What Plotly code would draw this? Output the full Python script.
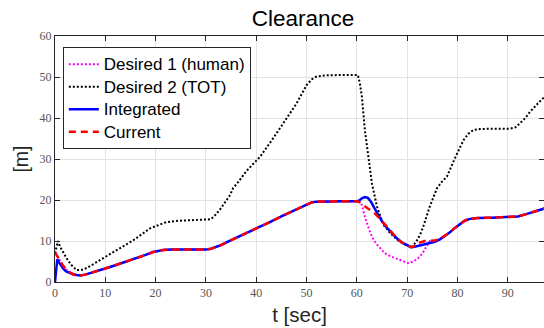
import plotly.graph_objects as go

# ---------------- data ----------------
t_int = [0, 0.2, 0.45, 0.8, 1.2, 1.6, 2.2, 3, 3.6, 4.3, 5, 6, 8, 10, 12, 14, 16, 18, 19.5, 20.5,
         21.5, 23, 26, 29, 30, 31, 32, 33, 35, 37.5, 40, 42.5, 45, 47.5, 50, 51, 52, 54, 57, 60,
         60.5, 61, 61.6, 62.2, 62.8, 63.5, 64.3, 65, 66, 67, 68, 69, 70, 70.8, 71.5, 72.5, 73.5,
         74.5, 75.5, 76.5, 77.5, 78.5, 79.5, 80.5, 81.5, 82.5, 84, 87, 90, 91, 92, 93.5, 95, 96.5, 97.5]
v_int = [0, 3.5, 5.5, 4.8, 4.0, 3.3, 2.6, 2.1, 1.9, 1.7, 1.6, 1.8, 2.5, 3.3, 4.1, 4.9, 5.7, 6.6, 7.3, 7.6,
         7.8, 7.9, 7.9, 7.9, 7.9, 8.1, 8.5, 9.0, 10.2, 11.6, 13.1, 14.5, 16.0, 17.5, 19.0, 19.4, 19.6, 19.7, 19.7, 19.7,
         19.9, 20.4, 20.7, 20.5, 19.6, 18.0, 16.2, 14.8, 13.2, 11.8, 10.6, 9.6, 8.9, 8.5, 8.6, 8.9, 9.2,
         9.4, 9.8, 10.4, 11.2, 12.1, 13.2, 14.2, 15.0, 15.4, 15.6, 15.7, 15.8, 15.8, 16.0, 16.5, 17.0, 17.6, 18.0]

t_cur = [0, 0.5, 1, 1.6, 2.2, 3, 3.6, 4.3, 5, 6, 8, 10, 12, 14, 16, 18, 19.5, 20.5,
         21.5, 23, 26, 29, 30, 31, 32, 33, 35, 37.5, 40, 42.5, 45, 47.5, 50, 51, 52, 54, 57, 60,
         60.5, 61, 61.8, 62.6, 63.5, 64.3, 65, 66, 67, 68, 69, 70, 70.8, 71.5, 72.5, 73.5,
         74.5, 75.5, 76.5, 77.5, 78.5, 79.5, 80.5, 81.5, 82.5, 84, 87, 90, 91, 92, 93.5, 95, 96.5, 97.5]
v_cur = [7.2, 6.3, 5.2, 4.0, 3.0, 2.3, 1.9, 1.7, 1.6, 1.8, 2.5, 3.3, 4.1, 4.9, 5.7, 6.6, 7.3, 7.6,
         7.8, 7.9, 7.9, 7.9, 7.9, 8.1, 8.5, 9.0, 10.2, 11.6, 13.1, 14.5, 16.0, 17.5, 19.0, 19.4, 19.6, 19.7, 19.7, 19.7,
         19.5, 19.0, 18.3, 17.7, 16.8, 15.8, 14.8, 13.2, 11.8, 10.6, 9.6, 8.9, 8.5, 8.8, 9.6, 10.0,
         10.0, 10.1, 10.5, 11.2, 12.1, 13.2, 14.2, 15.0, 15.4, 15.6, 15.7, 15.8, 15.8, 16.0, 16.5, 17.0, 17.6, 18.0]

t_hum = [0, 0.5, 1, 1.6, 2.2, 3, 3.6, 4.3, 5, 6, 8, 10, 12, 14, 16, 18, 19.5, 20.5,
         21.5, 23, 26, 29, 30, 31, 32, 33, 35, 37.5, 40, 42.5, 45, 47.5, 50, 51, 52, 54, 57, 60,
         60.5, 61, 61.6, 62.3, 63, 63.8, 64.6, 65.5, 66.6, 67.6, 68.6, 69.5, 70.2, 71.2, 72.2, 73,
         73.6, 74.1, 74.5, 75.5, 76.5, 77.5, 78.5, 79.5, 80.5, 81.5, 82.5, 84, 87, 90, 91, 92, 93.5, 95, 96.5, 97.5]
v_hum = [7.2, 6.3, 5.2, 4.0, 3.0, 2.3, 1.9, 1.7, 1.6, 1.8, 2.5, 3.3, 4.1, 4.9, 5.7, 6.6, 7.3, 7.6,
         7.8, 7.9, 7.9, 7.9, 7.9, 8.1, 8.5, 9.0, 10.2, 11.6, 13.1, 14.5, 16.0, 17.5, 19.0, 19.4, 19.6, 19.7, 19.7, 19.7,
         19.5, 18.8, 15.9, 13.3, 11.0, 9.4, 8.2, 7.1, 6.3, 5.8, 5.4, 4.9, 4.6, 5.0, 5.8, 6.9,
         8.2, 9.2, 10.0, 9.9, 10.4, 11.2, 12.1, 13.2, 14.2, 15.0, 15.4, 15.6, 15.7, 15.8, 15.8, 16.0, 16.5, 17.0, 17.6, 18.0]

t_tot = [0, 0.3, 0.6, 1, 1.6, 2.3, 3.2, 4.3, 5.6, 7, 9, 12.3, 15.6, 18.9, 20.5, 21.9, 24, 27, 30, 31,
         32, 33, 34, 34.8, 35.4, 36.5, 38, 40.8, 43.5, 46.1, 48, 50, 51, 52, 54, 57, 59.5, 60.2, 60.6, 61,
         61.6, 62.3, 63, 64, 65.3, 66.6, 68, 69.5, 70.9, 71.8, 72.6, 73.2, 74.5, 75.9, 76.8, 77.9, 78.8,
         79.5, 80.5, 81.2, 82.2, 83.2, 84.5, 86.5, 90.5, 91.5, 92.4, 93.5, 94.4, 95.5, 96.5, 97.5]
v_tot = [7, 8.5, 10, 8.6, 7.2, 5.8, 4.2, 2.9, 3.0, 3.9, 5.4, 7.8, 10.2, 13.1, 13.9, 14.5, 14.9, 15.0, 15.1, 15.3,
         16.5, 18.0, 19.8, 21.2, 22.9, 24.5, 27.0, 30.6, 35.3, 39.9, 43.5, 48.0, 49.4, 50.1, 50.4, 50.5, 50.6, 50.5, 48.5, 45.2,
         37.0, 30.2, 24.0, 18.4, 13.9, 12.0, 10.3, 9.2, 8.5, 9.8, 11.6, 13.5, 18.4, 22.8, 24.3, 25.7, 28.0,
         30.2, 32.8, 34.6, 36.2, 37.1, 37.3, 37.4, 37.4, 37.7, 38.7, 40.0, 41.5, 43.0, 44.2, 45.4]

series_names = ["Desired 1 (human)", "Desired 2 (TOT)", "Integrated", "Current"]
x_ticks = [0, 10, 20, 30, 40, 50, 60, 70, 80, 90]
y_ticks = [0, 10, 20, 30, 40, 50, 60]


def lbl(s):
    return '<span style="font-size:17px">' + s + '</span>'


# ---------------- figure ----------------
fig = go.Figure()
fig.add_trace(go.Scatter(x=t_hum, y=v_hum, mode="lines", name=lbl(series_names[0]),
                         line=dict(color="#ff00ff", width=2, dash="2px,2px")))
fig.add_trace(go.Scatter(x=t_tot, y=v_tot, mode="lines", name=lbl(series_names[1]),
                         line=dict(color="#000000", width=2, dash="2px,2px")))
fig.add_trace(go.Scatter(x=t_int, y=v_int, mode="lines", name=lbl(series_names[2]),
                         line=dict(color="#0000ff", width=2.5)))
fig.add_trace(go.Scatter(x=t_cur, y=v_cur, mode="lines", name=lbl(series_names[3]),
                         line=dict(color="#ff0000", width=2.5, dash="7px,5px")))

axis_common = dict(
    showgrid=True, gridcolor="#e3e3e3", gridwidth=1,
    zeroline=False, showline=True, linecolor="#262626", linewidth=1,
    mirror="ticks", ticks="inside", ticklen=5, tickcolor="#262626",
    tickfont=dict(family="Liberation Serif", size=12, color="#555555"),
)

fig.update_layout(
    width=544, height=328,
    margin=dict(l=55, r=0, t=36, b=46),
    paper_bgcolor="white", plot_bgcolor="white",
    title=dict(text="Clearance", x=0.557, xanchor="center", y=0.945, yanchor="middle",
               font=dict(family="Liberation Sans", size=22.5, color="#000000")),
    xaxis=dict(range=[0, 97.2], tickvals=x_ticks,
               title=dict(text="t [sec]", font=dict(family="Liberation Sans", size=20.5, color="#262626"),
                          standoff=8),
               **axis_common),
    yaxis=dict(range=[0, 60], tickvals=y_ticks,
               title=dict(text="[m]", font=dict(family="Liberation Sans", size=19.5, color="#262626"),
                          standoff=5),
               **axis_common),
    legend=dict(x=0.016, y=0.955, xanchor="left", yanchor="top",
                bgcolor="white", bordercolor="#262626", borderwidth=1,
                font=dict(family="Liberation Sans", size=15, color="#000000"),
                tracegroupgap=0, itemwidth=30),
    showlegend=True,
)

fig.write_html("out.html")
